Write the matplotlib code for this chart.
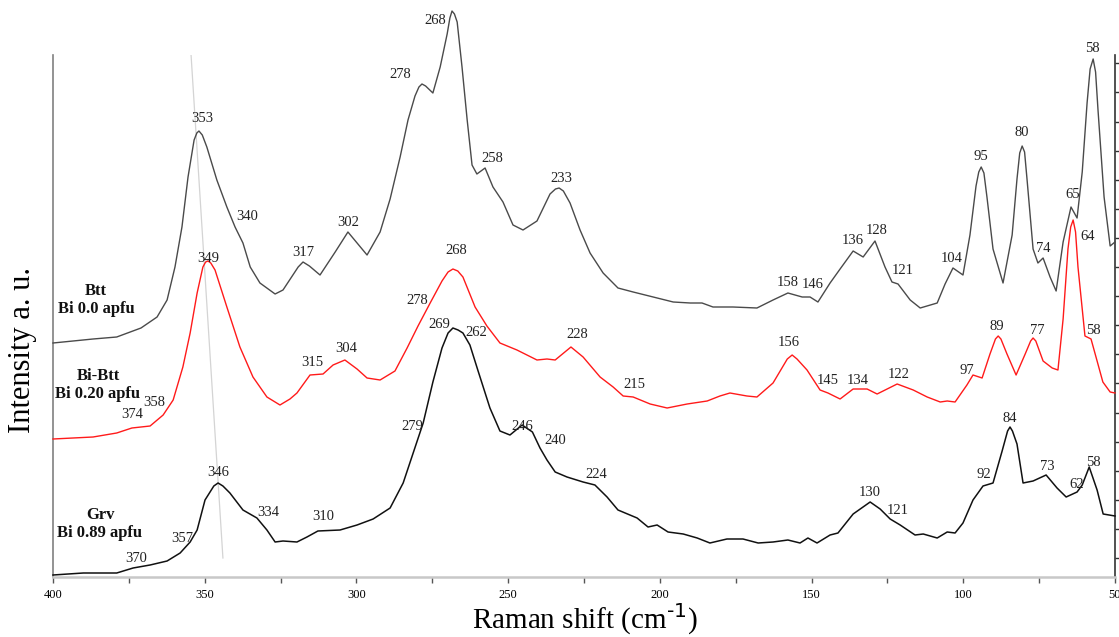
import matplotlib
matplotlib.use("Agg")
import matplotlib.pyplot as plt
import numpy as np

plt.rcParams["font.family"] = ["Liberation Serif", "DejaVu Serif"]
plt.rcParams["axes.unicode_minus"] = False

# Btt, Bi 0.0 apfu (grey trace, top)
btt_x = [400, 386.8, 379, 371, 365.7, 362.4, 359.8, 357.5, 355.5, 353.5, 352.6, 351.9, 350.8, 349.3,
         346, 342.7, 340, 337.4, 335, 331.8, 326.8, 324.2, 319.2, 317.6, 315.5, 312, 307, 302.8,
         296.5, 292.2, 288.9, 285.6, 283, 280.7, 279.4, 278.4, 277.2, 274.8, 272.4, 270.1, 269.2,
         268.5, 267.7, 266.8, 265.2, 263.5, 261.9, 260.3, 257.6, 255, 251.7, 248.4, 245.1, 240.5,
         236.2, 234.4, 233.2, 231.8, 229.6, 226.3, 223, 218.7, 213.8, 208.8, 202.2, 195.6, 190,
         186.1, 182.5, 175.9, 168, 162.7, 157.8, 153.1, 150.5, 147.9, 143.9, 140.6, 136.3, 133,
         129.1, 125.8, 123.5, 121.5, 117.5, 114.2, 108.6, 106, 103.4, 100.1, 97.8, 95.8, 94.9, 94.1,
         93.2, 92.2, 90.2, 86.9, 83.9, 82.3, 81.4, 80.6, 79.8, 79, 77, 75.4, 73.7, 71.4, 69.4, 67.1,
         64.5, 62.5, 60.8, 59.2, 58.2, 57.2, 56.4, 55.6, 53.6, 51.6, 50]
btt_y = [234, 238, 240, 249, 260, 277, 310, 350, 400, 437, 444, 446, 442, 430,
         397, 370, 350, 334, 310, 294, 283, 287, 310, 315, 311, 302, 325, 345,
         322, 345, 378, 420, 457, 481, 490, 493, 491, 484, 510, 543, 559,
         566, 563, 555, 510, 457, 412, 403, 409, 390, 375, 352, 347, 356,
         383, 388, 389, 386, 374, 347, 324, 304, 289, 285, 280, 275, 274,
         274, 270, 270, 269, 277, 284, 280, 280, 275, 294, 308, 326, 320,
         336, 310, 295, 293, 277, 269, 274, 293, 309, 302, 342, 391, 405, 410,
         404, 380, 328, 294, 342, 398, 424, 431, 425, 398, 328, 314, 319, 300, 286, 335,
         370, 359, 405, 474, 508, 518, 505, 467, 380, 331, 335]

# Bi-Btt, Bi 0.20 apfu (red trace, middle)
bibtt_x = [400, 386.8, 379, 374, 368, 363.7, 360.4, 357.2, 354.8, 352.5, 350.6, 349.7, 348.9, 348,
           346.6, 342.7, 338.4, 334.1, 329.5, 325.2, 321.9, 319.6, 315.3, 311, 307.7, 303.8, 299.8,
           296.5, 292.2, 287.3, 283.3, 279.7, 275.7, 271.8, 269.8, 268.2, 266.6, 264.9, 260.9, 257,
           252.7, 247.1, 240.5, 237.2, 234.5, 229.3, 225.3, 219.7, 215.4, 212.1, 208.8, 203.2, 197.6,
           191, 184.4, 180.2, 176.9, 171.3, 168, 162.7, 158, 156.4, 154.8, 151.5, 147.2, 144.6, 140.6,
           136.3, 131.7, 128.4, 121.8, 116.5, 111.9, 107.6, 105.3, 102.7, 98.8, 96.8, 93.8,
           91.2, 89.4, 88.5, 87.6, 85.6, 82.6, 79.6, 77.8, 77, 76.1, 73.7, 70.7, 68.8, 67.1, 65.5,
           64.6, 63.8, 63, 62.2, 59.9, 57.9, 55.9, 54, 51.6, 50]
bibtt_y = [138, 140, 144, 149, 151, 162, 177, 210, 244, 284, 310, 315, 316, 314,
           307, 270, 230, 200, 180, 172, 178, 184, 202, 203, 212, 217, 208,
           199, 197, 206, 229, 251, 274, 296, 305, 308, 306, 300, 270, 251,
           234, 227, 217, 218, 217, 230, 220, 200, 190, 181, 180, 173, 169,
           173, 176, 181, 184, 181, 180, 194, 218, 222, 218, 207, 187, 184, 178,
           188, 188, 183, 193, 187, 180, 175, 176, 175, 192, 202, 199,
           223, 238, 241, 238, 223, 202, 223, 236, 239, 236, 216, 209, 207, 258, 328,
           350, 357, 345, 310, 241, 238, 216, 195, 185, 184]

# Grv, Bi 0.89 apfu (black trace, bottom)
grv_x = [400, 390, 379, 373.6, 368, 362.4, 358.1, 354.8, 352.5, 349.9, 347, 345.6, 344, 341.7,
         337.4, 332.8, 329.5, 326.8, 324.2, 319.6, 316.3, 312.7, 305.4, 299.8, 294.5, 288.9, 284.6,
         281.3, 278, 274.8, 271.8, 269.8, 268.2, 266.5, 264.9, 262.6, 259.9, 256, 252.7, 249.4,
         245.4, 242, 239.5, 237.2, 234.5, 230.6, 225.3, 221.4, 217.4, 213.8, 207.5, 203.9, 200.9,
         197.3, 192.3, 187.7, 183.5, 177.9, 172.6, 167.6, 162.7, 157.8, 153.8, 151.2, 148.2, 143.9,
         141.3, 136.3, 130.7, 127.4, 124.1, 120.8, 115.9, 113.2, 108.6, 105.3, 102.7, 100.1,
         96.8, 93.5, 90.2, 87.2, 85.4, 84.6, 83.8, 82.3, 80.3, 77, 72.7, 69.1, 66.1, 62.5, 60.8,
         58.5, 55.9, 53.9, 50]
grv_y = [2, 4, 4, 9, 12, 16, 24, 35, 47, 77, 91, 94, 91, 84,
         67, 59, 47, 35, 36, 35, 40, 46, 47, 52, 58, 69, 94,
         124, 154, 195, 229, 244, 249, 247, 244, 232, 206, 169, 146, 142,
         152, 145, 129, 117, 105, 100, 95, 92, 80, 67, 59, 50, 52,
         45, 43, 39, 34, 38, 38, 34, 35, 37, 34, 39, 34, 42,
         44, 63, 75, 68, 58, 52, 42, 43, 39, 45, 44, 54,
         77, 91, 94, 126, 146, 150, 146, 133, 94, 96, 102, 89, 80, 85, 92,
         110, 87, 63, 61]

# peak labels: (text, x, y)
btt_peaks = [("353", 350.9, 459), ("340", 336.1, 361), ("317", 317.6, 324), ("302", 302.8, 355),
             ("278", 285.6, 502), ("268", 274.1, 556), ("258", 255.3, 419), ("233", 232.6, 399),
             ("158", 157.8, 295), ("146", 149.8, 292), ("136", 136.3, 336), ("128", 128.7, 347),
             ("121", 119.8, 307), ("104", 103.7, 318), ("95", 94.1, 420), ("80", 80.6, 445),
             ("74", 73.7, 329), ("65", 63.8, 382), ("58", 57.6, 528)]
bibtt_peaks = [("349", 348.9, 319), ("374", 374, 162), ("358", 366.7, 174), ("315", 314.6, 214),
               ("304", 303.4, 228), ("278", 280, 277), ("268", 267.2, 327), ("228", 227.3, 243),
               ("215", 208.5, 193), ("156", 157.4, 234), ("145", 144.6, 197), ("134", 134.7, 197),
               ("122", 121.2, 203), ("97", 98.9, 206), ("89", 88.9, 250), ("77", 75.7, 246),
               ("64", 58.9, 340), ("58", 57.2, 247)]
grv_peaks = [("370", 372.6, 19), ("357", 357.5, 39), ("346", 345.6, 104), ("334", 329.1, 64),
             ("310", 311, 61), ("279", 281.7, 150), ("269", 272.8, 253), ("262", 260.6, 245),
             ("246", 245.4, 150), ("240", 234.5, 137), ("224", 221, 103), ("130", 131, 84),
             ("121", 121.5, 66), ("92", 93.1, 103), ("84", 84.6, 158), ("73", 72.4, 111),
             ("62", 62.5, 92), ("58", 57.2, 115)]

names = ["Btt\nBi 0.0 apfu", "Bi-Btt\nBi 0.20 apfu", "Grv\nBi 0.89 apfu"]
name_pos = [(385.8, 277), (385.2, 192), (384.5, 53)]

fig = plt.figure(figsize=(11.19, 6.37), dpi=100)
ax = fig.add_axes([53 / 1119, 60 / 637, 1062 / 1119, 522 / 637])

# guide line through the ~350 band
ax.plot([354.5, 344], [522, 19], color="#d4d4d4", lw=0.9, zorder=1)

ax.plot(btt_x, btt_y, color="#4a4a4a", lw=1.0, clip_on=False, zorder=3)
ax.plot(bibtt_x, bibtt_y, color="#ff1a1a", lw=1.0, clip_on=False, zorder=3)
ax.plot(grv_x, grv_y, color="#111111", lw=1.1, clip_on=False, zorder=3)

for peaks in (btt_peaks, bibtt_peaks, grv_peaks):
    for txt, x, y in peaks:
        ax.text(x, y, txt, ha="center", va="center", fontsize=10.5, color="#222222")

for name, (x, y) in zip(names, name_pos):
    ax.text(x, y, name, ha="center", va="center", fontsize=12, fontweight="bold",
            linespacing=1.15, color="#111111")

ax.set_xlim(400, 50)
ax.set_ylim(0, 522)

ax.spines["top"].set_visible(False)
ax.spines["left"].set_color("#808080")
ax.spines["left"].set_linewidth(1.2)
ax.spines["bottom"].set_color("#c8c8c8")
ax.spines["bottom"].set_linewidth(1.8)
ax.spines["right"].set_color("#333333")
ax.spines["right"].set_linewidth(1.2)

ax.set_xticks(np.arange(400, 49, -50))
ax.set_xticks(np.arange(375, 50, -50), minor=True)
ax.tick_params(axis="x", which="both", direction="out", length=4, width=1,
               color="#555555", labelsize=9, pad=5)

ax.yaxis.tick_right()
ax.set_yticks(19 + 29.1 * np.arange(18))
ax.tick_params(axis="y", which="major", direction="out", length=3.5, width=1,
               color="#333333", labelright=False, labelleft=False)

fig.text(585 / 1119, 1 - 619 / 637, "Raman shift (cm$^{\\text{-1}}$)", fontsize=21,
         ha="center", va="center")
fig.text(23 / 1119, 1 - 350 / 637, "Intensity a. u.", rotation=90, fontsize=22,
         ha="center", va="center")

fig.savefig("out.png", dpi=100)
